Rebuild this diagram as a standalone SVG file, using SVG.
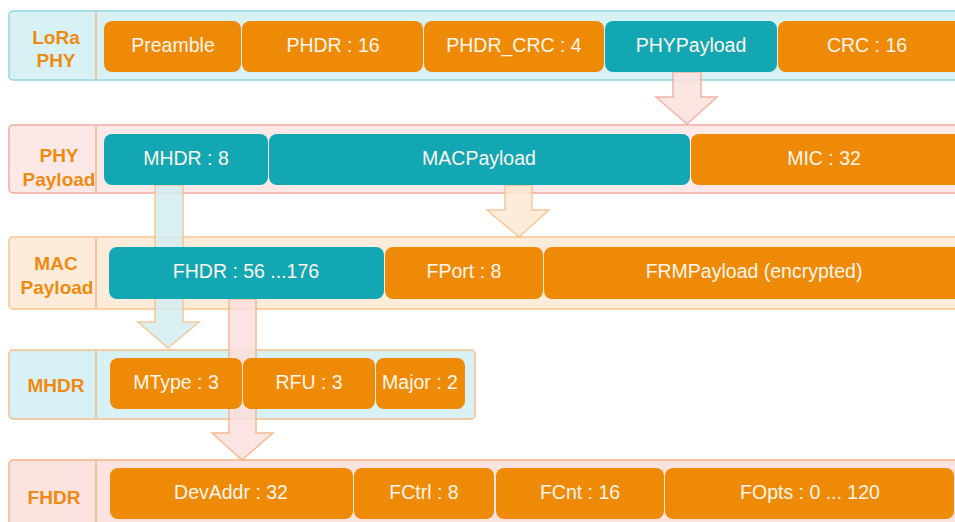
<svg xmlns="http://www.w3.org/2000/svg" width="955" height="522" viewBox="0 0 955 522">
<style>
.lbl{font-family:"Liberation Sans",Arial,sans-serif;font-weight:bold;font-size:19px;fill:#ef8a10;text-anchor:middle}
.t{font-family:"Liberation Sans",Arial,sans-serif;font-size:19.5px;fill:#fdf6ec;text-anchor:middle}
.o{fill:#ef8a07}
.c{fill:#13a7b4}
.div{stroke:#f2b985;stroke-width:1.5}
.arr{stroke-width:1.5;opacity:0.85}
</style>
<rect width="955" height="522" fill="#ffffff"/>
<g id="row-lora-phy">
<rect x="9" y="11" width="960" height="69" rx="4" fill="#d7f1f4" stroke="#92d5dd" stroke-width="1.5"/>
<line class="div" x1="96" y1="12" x2="96" y2="79"/>
<text class="lbl" x="56" y="44">LoRa</text>
<text class="lbl" x="56" y="67">PHY</text>
</g>
<g id="row-phy-payload">
<rect x="9" y="125" width="960" height="68" rx="4" fill="#fce9e7" stroke="#f3aaa0" stroke-width="1.5"/>
<line class="div" x1="96" y1="126" x2="96" y2="192"/>
<text class="lbl" x="59" y="162">PHY</text>
<text class="lbl" x="59" y="186">Payload</text>
</g>
<g id="row-mac-payload">
<rect x="9" y="237" width="960" height="72" rx="4" fill="#fdecd9" stroke="#f7c592" stroke-width="1.5"/>
<line class="div" x1="96" y1="238" x2="96" y2="308"/>
<text class="lbl" x="56" y="270">MAC</text>
<text class="lbl" x="57" y="294">Payload</text>
</g>
<g id="row-mhdr">
<rect x="9" y="350" width="466" height="69" rx="4" fill="#d7f1f4" stroke="#f5c08a" stroke-width="1.5"/>
<line class="div" x1="96" y1="351" x2="96" y2="418"/>
<text class="lbl" x="56" y="392">MHDR</text>
</g>
<g id="row-fhdr">
<rect x="9" y="460" width="960" height="80" rx="4" fill="#fce3df" stroke="#f5b482" stroke-width="1.5"/>
<line class="div" x1="96" y1="461" x2="96" y2="530"/>
<text class="lbl" x="54" y="504">FHDR</text>
</g>
<g id="connectors">
<polygon class="arr" points="673,72 701,72 701,97 717,97 687,124 656,97 673,97" fill="#fbe2de" stroke="#f0a898"/>
<polygon class="arr" points="505,185 532,185 532,210 549,210 519,237 487,210 505,210" fill="#fde9d3" stroke="#f5c08a"/>
<polygon class="arr" points="155,185 183,185 183,322 199,322 168,348 138,322 155,322" fill="#d4eef2" stroke="#f5c08a"/>
<polygon class="arr" points="229,299 256,299 256,433 273,433 242,460 212,433 229,433" fill="#fbe0dc" stroke="#f5b080"/>
</g>
<g id="preamble"><rect class="o" x="104" y="21" width="137" height="51" rx="8"/><text class="t" x="173" y="52">Preamble</text></g>
<g id="phdr"><rect class="o" x="242" y="21" width="181" height="51" rx="8"/><text class="t" x="333" y="52">PHDR : 16</text></g>
<g id="phdr-crc"><rect class="o" x="424" y="21" width="180" height="51" rx="8"/><text class="t" x="514" y="52">PHDR_CRC : 4</text></g>
<g id="phypayload"><rect class="c" x="605" y="21" width="172" height="51" rx="8"/><text class="t" x="691" y="52">PHYPayload</text></g>
<g id="crc"><rect class="o" x="778" y="21" width="190" height="51" rx="8"/><text class="t" x="867" y="52">CRC : 16</text></g>
<g id="mhdr"><rect class="c" x="104" y="134" width="164" height="51" rx="8"/><text class="t" x="186" y="165">MHDR : 8</text></g>
<g id="macpayload"><rect class="c" x="269" y="134" width="421" height="51" rx="8"/><text class="t" x="479" y="165">MACPayload</text></g>
<g id="mic"><rect class="o" x="691" y="134" width="277" height="51" rx="8"/><text class="t" x="824" y="165">MIC : 32</text></g>
<g id="fhdr"><rect class="c" x="109" y="247" width="275" height="52" rx="8"/><text class="t" x="246" y="278">FHDR : 56 ...176</text></g>
<g id="fport"><rect class="o" x="385" y="247" width="158" height="52" rx="8"/><text class="t" x="464" y="278">FPort : 8</text></g>
<g id="frmpayload"><rect class="o" x="544" y="247" width="424" height="52" rx="8"/><text class="t" x="754" y="278">FRMPayload (encrypted)</text></g>
<g id="mtype"><rect class="o" x="110" y="358" width="132" height="51" rx="8"/><text class="t" x="176" y="389">MType : 3</text></g>
<g id="rfu"><rect class="o" x="243" y="358" width="132" height="51" rx="8"/><text class="t" x="309" y="389">RFU : 3</text></g>
<g id="major"><rect class="o" x="376" y="358" width="89" height="51" rx="8"/><text class="t" x="420" y="389">Major : 2</text></g>
<g id="devaddr"><rect class="o" x="110" y="468" width="243" height="51" rx="8"/><text class="t" x="231" y="499">DevAddr : 32</text></g>
<g id="fctrl"><rect class="o" x="354" y="468" width="140" height="51" rx="8"/><text class="t" x="424" y="499">FCtrl : 8</text></g>
<g id="fcnt"><rect class="o" x="496" y="468" width="168" height="51" rx="8"/><text class="t" x="580" y="499">FCnt : 16</text></g>
<g id="fopts"><rect class="o" x="665" y="468" width="289" height="51" rx="8"/><text class="t" x="810" y="499">FOpts : 0 ... 120</text></g>
</svg>
